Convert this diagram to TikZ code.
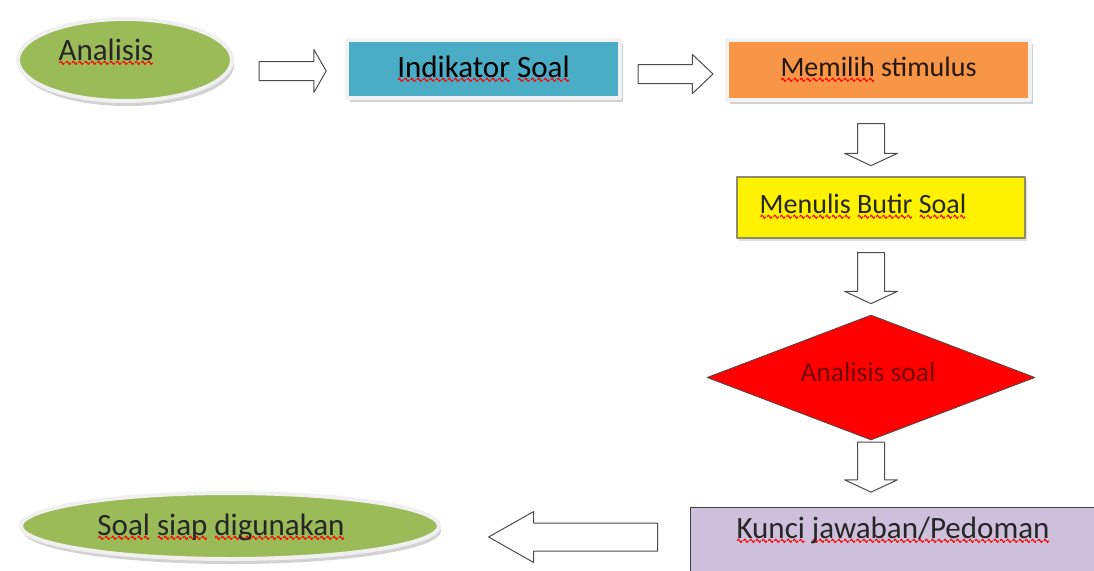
\documentclass[tikz,border=0pt]{standalone}
\usepackage{fontspec}
\setmainfont{Carlito}
\usetikzlibrary{calc,shapes.geometric,shapes.arrows,shadows}

\definecolor{hijau}{HTML}{9BBB59}
\definecolor{biru}{HTML}{4BACC6}
\definecolor{oranye}{HTML}{F79646}
\definecolor{ungu}{HTML}{CCC0DA}

% garis merah bergelombang (spell check)
\newsavebox\gelombang
\newsavebox\kata
\AtBeginDocument{\sbox\gelombang{\begin{pgfpicture}
  \pgfsetcolor{red}\pgfsetlinewidth{1.1pt}
  \pgfpathmoveto{\pgfpoint{0pt}{0pt}}
  \pgfpathcurveto{\pgfpoint{0.8pt}{2.2pt}}{\pgfpoint{1.7pt}{2.2pt}}{\pgfpoint{2.5pt}{0pt}}
  \pgfpathcurveto{\pgfpoint{3.3pt}{-2.2pt}}{\pgfpoint{4.2pt}{-2.2pt}}{\pgfpoint{5pt}{0pt}}
  \pgfusepath{stroke}\end{pgfpicture}}}
\newcommand\sperr[1]{\sbox\kata{#1}\rlap{\lower5.5pt\hbox to\wd\kata{\xleaders\copy\gelombang\hfil}}\usebox\kata}

\begin{document}
\begin{tikzpicture}[x=1pt,y=-1pt,line join=round,font=\fontsize{31}{36}\selectfont,
  txt/.style={inner sep=0pt,text=black!85},
  oval/.style={ellipse,fill=hijau,draw=gray!12,line width=4pt,inner sep=0pt,
    drop shadow={shadow xshift=2pt,shadow yshift=-5pt,fill=gray!70}},
  kotak/.style={rectangle,inner sep=0pt,draw=gray!10,line width=4pt,
    drop shadow={shadow xshift=3pt,shadow yshift=-4pt,fill=gray!70}},
  panah/.style={single arrow,draw=black!70,fill=white,line width=1pt}]
  \useasboundingbox[fill=white] (0,0) rectangle (1094,570);

  % baris atas
  \node[oval,minimum width=214pt,minimum height=82pt] (ana) at (125,60) {};
  \node[txt] (anatxt) at (106,52) {\sperr{Analisis}};
  \node[kotak,fill=biru,minimum width=273pt,minimum height=58pt] (ind) at (483.5,69) {\sperr{Indikator} \sperr{Soal}};
  \node[kotak,fill=oranye,minimum width=303pt,minimum height=60pt,text=black!85!oranye,
    font=\fontsize{28}{32}\selectfont] (mem) at (878.5,70) {\sperr{Memilih} stimulus};

  % kolom kanan
  \node[rectangle,fill=yellow,draw=black!50!yellow!60!gray,line width=1.5pt,
    minimum width=288pt,minimum height=61pt,
    drop shadow={shadow xshift=2pt,shadow yshift=-3pt,fill=gray!50}] (tulis) at (881,207.5) {};
  \node[txt,font=\fontsize{28}{32}\selectfont] (tulistxt) at (863,207) {\sperr{Menulis} \sperr{Butir} \sperr{Soal}};
  \node[diamond,fill=red,draw=black!70,line width=0.8pt,inner sep=0pt,
    minimum width=328pt,minimum height=125pt] (cek) at (871,377.5) {};
  \node[txt,text=red!45!black,font=\fontsize{27.5}{32}\selectfont] (cektxt) at (868,372) {Analisis soal};
  \node[rectangle,fill=ungu,draw=black!75,line width=1pt,
    minimum width=420pt,minimum height=83pt] (kunci) at (900,548.5) {};
  \node[txt] (kuncitxt) at (893,530) {\sperr{Kunci} \sperr{jawaban/Pedoman}};

  % hasil akhir
  \node[oval,minimum width=418pt,minimum height=66pt] (soal) at (230,526) {};
  \node[txt] (soaltxt) at (221,527) {\sperr{Soal} \sperr{siap} \sperr{digunakan}};

  % panah kosong
  \node[panah,inner sep=9pt,minimum height=67pt,minimum width=42pt,single arrow head extend=12pt,
    single arrow tip angle=120] (p1) at (290,71) {};
  \node[panah,inner sep=9pt,minimum height=75pt,minimum width=38pt,single arrow head extend=10pt,
    single arrow tip angle=87] (p2) at (670.5,74) {};
  \foreach \y/\l [count=\i from 3] in {141.5/42,275/51,464/50}
    \node[panah,inner sep=13pt,shape border rotate=270,minimum height=\l pt,minimum width=52pt,
      single arrow head extend=13pt,single arrow tip angle=130] (p\i) at (871,\y) {};
  \node[panah,inner sep=13.5pt,shape border rotate=180,minimum height=169pt,minimum width=50pt,
    single arrow head extend=11.5pt,single arrow tip angle=59] (p6) at (585.5,537) {};
\end{tikzpicture}
\end{document}
